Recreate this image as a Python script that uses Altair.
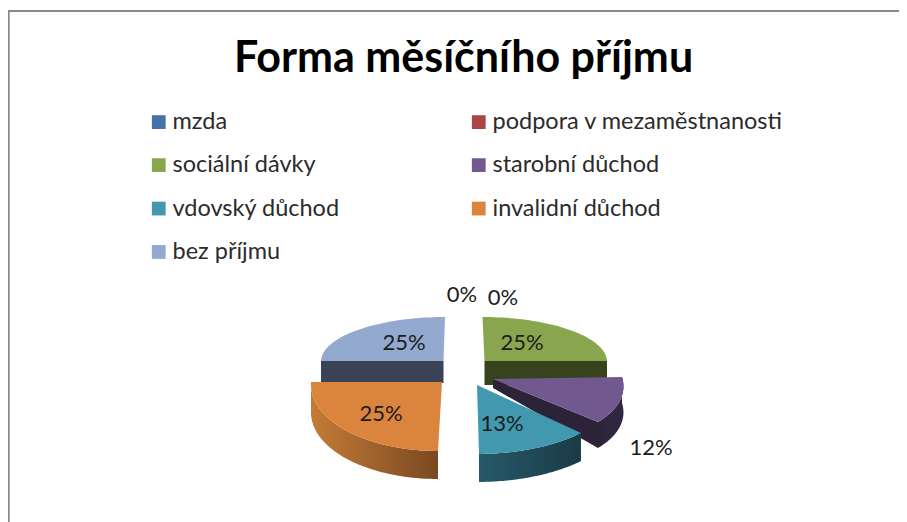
import math
import altair as alt
import pandas as pd

categories = ["mzda", "podpora v mezaměstnanosti", "sociální dávky", "starobní důchod",
              "vdovský důchod", "invalidní důchod", "bez příjmu"]
shares = [0, 0, 25, 12.5, 12.5, 25, 25]
share_labels = ["0%", "0%", "25%", "12%", "13%", "25%", "25%"]
colors = ["#4572A7", "#AA4643", "#89A54E", "#71588F", "#4198AF", "#DB843D", "#93A9CF"]
TITLE = "Forma měsíčního příjmu"

FONT = "Lato"
OX, OY = 8, 8  # page margin

# Layout of each exploded, perspective-flattened slice: apex, conjugate radii, depth at apex/rim
frames = {
    "sociální dávky": dict(a=(484.5, 361), u=(122.5, 0), v=(2, 44), d0=24, d1=24),
    "starobní důchod": dict(a=(493, 379), u=(129, -2), v=(19.5, 62.8), d0=9, d1=26),
    "vdovský důchod": dict(a=(477, 385), u=(145, -1), v=(2, 69), d0=28, d1=28),
    "invalidní důchod": dict(a=(442, 382), u=(131, 0), v=(-4, 69), d0=28, d1=28),
    "bez příjmu": dict(a=(443.5, 361), u=(122.5, 0), v=(-1.5, 44), d0=22, d1=22),
}
label_pos = [(462, 295), (503, 298), (522, 343), (651, 448), (502, 424), (381, 414), (404, 343)]


def grad(c0, c1):
    return alt.LinearGradient(gradient="linear", x1=0, x2=1, y1=0, y2=0,
                              stops=[alt.GradientStop(color=c0, offset=0),
                                     alt.GradientStop(color=c1, offset=1)])


cut_paint = {"sociální dávky": ("end", "#37421F"), "bez příjmu": ("start", "#3A4356"),
             "starobní důchod": ("end", "#2D2339")}
rim_paint = {"starobní důchod": grad("#2D2339", "#332843"),
             "vdovský důchod": grad("#26596A", "#1A3B45"),
             "invalidní důchod": grad("#C47B37", "#7A4920")}

# Sweep angles from the shares
total = sum(shares)
angles = {}
acc = 0.0
for c, s in zip(categories, shares):
    angles[c] = (acc / total * 2 * math.pi, (acc + s) / total * 2 * math.pi)
    acc += s


def rim_point(f, t):
    ax, ay = f["a"]
    return (ax + f["u"][0] * math.sin(t) - f["v"][0] * math.cos(t) - OX,
            ay + f["u"][1] * math.sin(t) - f["v"][1] * math.cos(t) - OY)


def rim(f, t0, t1, n=48):
    return [rim_point(f, t0 + (t1 - t0) * i / n) for i in range(n + 1)]


def feature(name, pts):
    ring = [list(p) for p in pts] + [list(pts[0])]
    return {"type": "Feature", "name": name,
            "geometry": {"type": "Polygon", "coordinates": [ring]}}


def project(ch):
    return ch.project(type="identity", scale=1, translate=[0, 0])


layers = []

# Frame of the picture
W, H = 891, 514
border = alt.Chart(pd.DataFrame({"a": [0]}))
layers.append(border.mark_rule(color="#8A8A8A", strokeWidth=2.2).encode(
    x=alt.value(0.6), y=alt.value(3), y2=alt.value(H)))
layers.append(border.mark_rule(color="#8A8A8A", strokeWidth=2).encode(
    x=alt.value(0), x2=alt.value(W), y=alt.value(3)))

legend = alt.Legend(title=None, orient="none", legendX=139, legendY=102, columns=2,
                    direction="horizontal",
                    symbolType="square", symbolSize=190, symbolStrokeWidth=0,
                    labelFont=FONT, labelFontSize=23.5, labelColor="#2B2B2B", labelOffset=2,
                    rowPadding=18.4, columnPadding=127, padding=0, labelLimit=400)
color = alt.Color("name:N", scale=alt.Scale(domain=categories, range=colors), legend=legend)

for name in ["sociální dávky", "bez příjmu", "starobní důchod", "invalidní důchod", "vdovský důchod"]:
    f = frames[name]
    t0, t1 = angles[name]
    rp = rim(f, t0, t1)
    if name in rim_paint:
        low = [(x, y + f["d1"]) for x, y in rp]
        layers.append(project(alt.Chart(alt.Data(values=[feature(name, rp + low[::-1])]))
                              .mark_geoshape(fill=rim_paint[name], strokeWidth=0)))
    if name in cut_paint:
        which, paint = cut_paint[name]
        r = rim_point(f, t1 if which == "end" else t0)
        ax, ay = f["a"][0] - OX, f["a"][1] - OY
        quad = [(ax, ay), r, (r[0], r[1] + f["d1"]), (ax, ay + f["d0"])]
        layers.append(project(alt.Chart(alt.Data(values=[feature(name, quad)]))
                              .mark_geoshape(fill=paint, strokeWidth=0)))
    top = [(f["a"][0] - OX, f["a"][1] - OY)] + rp
    layers.append(project(alt.Chart(alt.Data(values=[feature(name, top)]))
                          .mark_geoshape(strokeWidth=0).encode(color=color)))

labels = pd.DataFrame({"label": share_labels,
                       "px": [p[0] - OX for p in label_pos],
                       "py": [p[1] - OY for p in label_pos]})
layers.append(alt.Chart(labels).mark_text(font=FONT, fontSize=22, color="#1C1C1C",
                                          align="center", baseline="middle").encode(
    x=alt.X("px:Q", scale=None), y=alt.Y("py:Q", scale=None), text="label:N"))

chart = alt.layer(*layers).properties(
    width=W, height=H, padding=0, autosize="none",
    title=alt.TitleParams(TITLE, font=FONT, fontSize=43, fontWeight="bold", color="#000000",
                          anchor="middle", frame="group", baseline="alphabetic", dx=10, dy=43, offset=-64),
).configure_view(stroke=None)

chart.save("out.html", embed_options={"renderer": "svg", "actions": False})
